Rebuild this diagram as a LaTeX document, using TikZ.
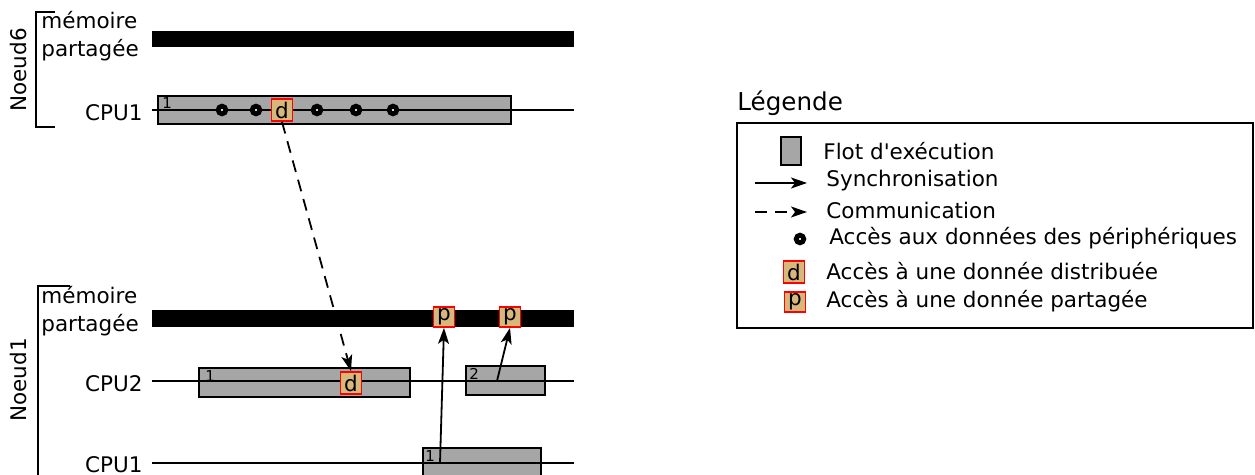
\documentclass[tikz,border=0pt]{standalone}
\usepackage{fontspec}
\setmainfont{DejaVu Sans}[Ligatures=TeXOff]
\usetikzlibrary{arrows.meta}

\definecolor{flotgris}{HTML}{A6A6A6}
\definecolor{donnee}{HTML}{D8B77A}

\begin{document}
\begin{tikzpicture}[x=0.5pt, y=-0.5pt, font=\fontsize{10.75}{14}\selectfont,
    flot/.style={draw, fill=flotgris, line width=1pt},
    memoire/.style={fill=black},
    ligne/.style={line width=0.9pt},
    numero/.style={anchor=north west, inner sep=0pt, font=\fontsize{7.5}{8}\selectfont},
    acces/.style={circle, draw=black, fill=white, line width=2.4pt, minimum size=3.8pt, inner sep=0pt},
    dbox/.style={draw=red, fill=donnee, line width=0.9pt, minimum width=10.5pt, minimum height=11pt, inner sep=0pt},
    pbox/.style={draw=red, fill=donnee, line width=0.9pt, minimum width=10.5pt, minimum height=10pt, inner sep=0pt},
    sync/.style={line width=0.9pt, -{Stealth[length=8pt, width=5.5pt, inset=2pt]}},
    comm/.style={sync, dash pattern=on 6pt off 4pt}]
    \clip (0,0) rectangle (1255,475);

    % Noeud6
    \draw[ligne] (55,12) -- (36,12) -- (36,127) -- (55,127);
    \node[rotate=90] (n6) at (18,70) {Noeud6};
    \node[anchor=west, align=left, inner sep=0pt] (mem6) at (41,36) {mémoire\\partagée};
    \fill[memoire] (152,31) rectangle (574,47);
    \node[anchor=east, inner sep=0pt] (cpu61) at (143,113) {CPU1};
    \draw[flot] (158,96) rectangle (511,124);
    \node[numero] at (162,97) {1};
    \draw[ligne] (152,110) -- (574,110);
    \foreach \x in {222,256,317,356,393}
        \node[acces] at (\x,110) {};
    \node[dbox] (d6) at (282,110) {d};

    % Noeud1
    \draw[ligne] (70,286) -- (38,286) -- (38,480);
    \node[rotate=90] (n1) at (18,380) {Noeud1};
    \node[anchor=west, align=left, inner sep=0pt] (mem1) at (41,311) {mémoire\\partagée};
    \fill[memoire] (152,310) rectangle (574,327);
    \node[pbox] (p1) at (444,317) {p};
    \node[pbox] (p2) at (510,317) {p};

    \node[anchor=east, inner sep=0pt] (cpu12) at (143,384) {CPU2};
    \draw[flot] (199,368) rectangle (410,397);
    \node[numero] at (205,370) {1};
    \draw[flot] (466,366) rectangle (545,395);
    \node[numero] at (469,368) {2};
    \draw[ligne] (152,381) -- (574,381);
    \node[dbox] (d1) at (351,383) {d};
    \coordinate (s2) at (497,381);

    \node[anchor=east, inner sep=0pt] (cpu11) at (143,465) {CPU1};
    \draw[flot] (423,448) rectangle (541,490);
    \node[numero] at (425,450) {1};
    \draw[ligne] (152,463) -- (574,463);
    \coordinate (s1) at (440,463);

    % Arrows
    \draw[comm] (d6.south) -- (d1.north);
    \draw[sync] (s1) -- (p1.south);
    \draw[sync] (s2) -- (p2.south);

    % Legende
    \node[anchor=west, inner sep=0pt, font=\fontsize{12.3}{14}\selectfont] (leg) at (737,103) {Légende};
    \draw[ligne] (737,123) rectangle (1253,328);
    \draw[flot] (781,137) rectangle (801,165);
    \node[anchor=west, inner sep=0pt] (lflot) at (823,151) {Flot d'exécution};
    \coordinate (la1) at (755,183);
    \coordinate (lb1) at (807,183);
    \draw[sync] (la1) -- (lb1);
    \node[anchor=west, inner sep=0pt] (lsync) at (826,181) {Synchronisation};
    \coordinate (la2) at (755,212);
    \coordinate (lb2) at (807,212);
    \draw[comm] (la2) -- (lb2);
    \node[anchor=west, inner sep=0pt] (lcomm) at (826,210) {Communication};
    \node[acces] (ldot) at (800,239) {};
    \node[anchor=west, inner sep=0pt] (lacc) at (829,238) {Accès aux données des périphériques};
    \node[dbox] (ld) at (794,272) {d};
    \node[anchor=west, inner sep=0pt] (ldist) at (826,271) {Accès à une donnée distribuée};
    \node[pbox] (lp) at (795,302) {p};
    \node[anchor=west, inner sep=0pt] (lpart) at (826,301) {Accès à une donnée partagée};
\end{tikzpicture}
\end{document}
